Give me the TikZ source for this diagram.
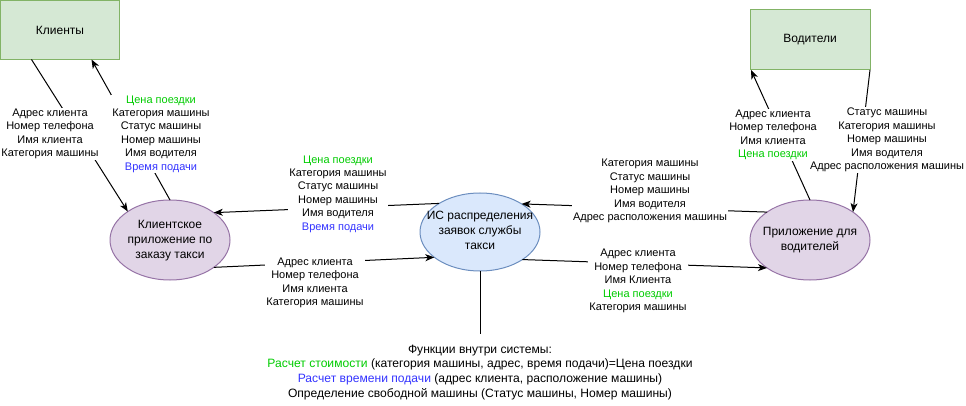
\documentclass[tikz,border=0pt]{standalone}
\usepackage{fontspec}
\setmainfont{Liberation Sans}
\usetikzlibrary{arrows.meta,shapes.geometric}
\definecolor{boxfill}{HTML}{D5E8D4}
\definecolor{boxline}{HTML}{82B366}
\definecolor{appfill}{HTML}{E1D5E7}
\definecolor{appline}{HTML}{9673A6}
\definecolor{sysfill}{HTML}{DAE8FC}
\definecolor{sysline}{HTML}{6C8EBF}
\definecolor{pricegreen}{HTML}{00CC00}
\definecolor{timeblue}{HTML}{3333FF}
\tikzset{
	entity/.style={draw=boxline,fill=boxfill,line width=1pt,minimum width=119pt,minimum height=59pt,inner sep=0pt,outer sep=0pt,anchor=north west,font=\fontsize{12}{14.4}\selectfont},
	process/.style={ellipse,line width=1pt,minimum width=120pt,minimum height=80pt,inner sep=0pt,outer sep=0pt},
	proctext/.style={align=center,inner sep=0pt,font=\fontsize{12}{15}\selectfont},
	flowlabel/.style={fill=white,inner sep=1pt,align=center,font=\fontsize{11}{13.4}\selectfont},
	flow/.style={line width=1pt,-{Stealth[length=9pt,width=7pt,inset=2.5pt]}}
}
\begin{document}
\begin{tikzpicture}[x=1pt,y=-1pt]
		\useasboundingbox(0,0)rectangle(966,406);
		\node(clients)at(0.5,0.5)[entity]{Клиенты};
		\node(drivers)at(750,10)[entity,minimum width=120pt,minimum height=60pt]{Водители};
		\node(kapp)at(170,240)[process,draw=appline,fill=appfill]{};
		\node(sys)at(480,232)[process,draw=sysline,fill=sysfill,minimum height=78pt]{};
		\node(dapp)at(810,240)[process,draw=appline,fill=appfill]{};
		\node(kapptext)at(170,241)[proctext]{Клиентское\\приложение по\\заказу такси};
		\node(systext)at(480,230)[proctext]{ИС распределения\\заявок службы\\такси};
		\node(dapptext)at(810,240)[proctext]{Приложение для\\водителей};
		\node(funcs)at(480,336)[anchor=north,align=center,inner xsep=2pt,inner ysep=8.5pt,font=\fontsize{12.1}{14.7}\selectfont]{Функции внутри системы:\\\textcolor{pricegreen}{Расчет стоимости} (категория машины, адрес, время подачи)=Цена поездки\\\textcolor{timeblue}{Расчет времени подачи} (адрес клиента, расположение машины)\\Определение свободной машины (Статус машины, Номер машины)};
		\draw[flow]([xshift=31pt]clients.south west)--(kapp.146);
		\draw[flow](kapp.north)--([xshift=91pt]clients.south west);
		\draw[flow](sys.145)--(kapp.32);
		\draw[flow](kapp.-32)--(sys.209);
		\draw[flow](dapp.147)--(sys.34);
		\draw[flow](sys.-33)--(dapp.213);
		\draw[flow](dapp.north)--([xshift=1pt]drivers.south west);
		\draw[flow](drivers.south east)--(dapp.33);
		\draw[line width=1pt](sys.south)--([yshift=2.5pt]funcs.north);
		\node(clientdata)at(50,134)[flowlabel]{Адрес клиента\\Номер телефона\\Имя клиента\\Категория машины};
		\node(orderinfo)at(161,134)[flowlabel]{\textcolor{pricegreen}{Цена поездки}\\Категория машины\\Статус машины\\Номер машины\\Имя водителя\\\textcolor{timeblue}{Время подачи}};
		\node(orderreply)at(338,194)[flowlabel]{\textcolor{pricegreen}{Цена поездки}\\Категория машины\\Статус машины\\Номер машины\\Имя водителя\\\textcolor{timeblue}{Время подачи}};
		\node(orderreq)at(315,283)[flowlabel]{Адрес клиента\\Номер телефона\\Имя клиента\\Категория машины};
		\node(carstate)at(650,191)[flowlabel]{Категория машины\\Статус машины\\Номер машины\\Имя водителя\\Адрес расположения машины};
		\node(tripdata)at(638,281)[flowlabel]{Адрес клиента\\Номер телефона\\Имя Клиента\\\textcolor{pricegreen}{Цена поездки}\\Категория машины};
		\node(driverdata)at(887,140)[flowlabel]{Статус машины\\Категория машины\\Номер машины\\Имя водителя\\Адрес расположения машины};
		\node(tripinfo)at(773,135)[flowlabel]{Адрес клиента\\Номер телефона\\Имя клиента\\\textcolor{pricegreen}{Цена поездки}};
	\end{tikzpicture}
\end{document}
